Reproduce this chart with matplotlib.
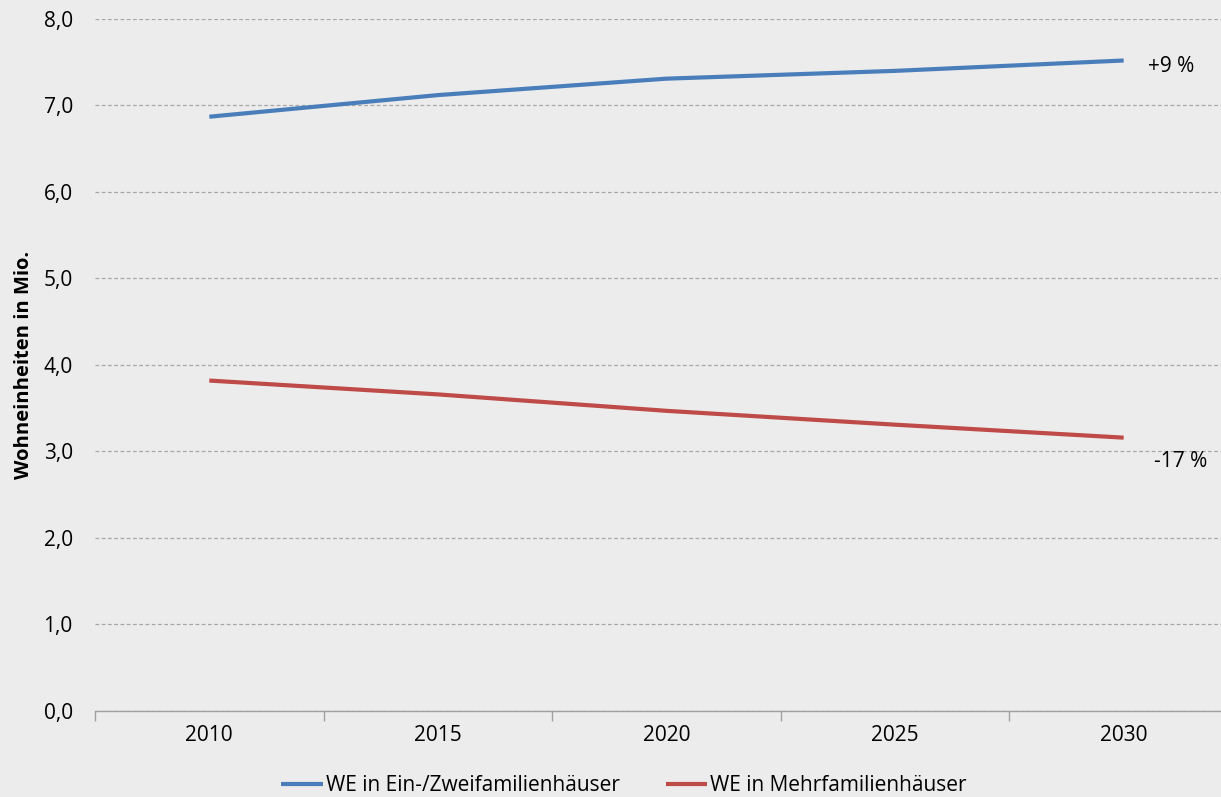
import matplotlib.pyplot as plt
from matplotlib.ticker import FuncFormatter

years = ["2010", "2015", "2020", "2025", "2030"]
ein_zwei = [6.87, 7.12, 7.31, 7.40, 7.52]
mehr = [3.82, 3.66, 3.47, 3.31, 3.16]
labels = ["WE in Ein-/Zweifamilienhäuser", "WE in Mehrfamilienhäuser"]
changes = ["+9 %", "-17 %"]

plt.rcParams['font.family'] = ['Open Sans', 'DejaVu Sans']
bg = '#ececec'
fs = 15

fig = plt.figure(figsize=(12.21, 7.97), dpi=100, facecolor=bg)
ax = fig.add_axes([0.0778, 0.1079, 1.0139 - 0.0778, 0.8683])
ax.set_facecolor(bg)

x = range(len(years))
l1, = ax.plot(x, ein_zwei, color='#4a7ebb', lw=3, solid_capstyle='butt')
l2, = ax.plot(x, mehr, color='#be4b48', lw=3, solid_capstyle='butt')

ax.annotate(changes[0], (x[-1], ein_zwei[-1]), xytext=(24, -6),
            textcoords='offset pixels', ha='left', va='center', fontsize=fs)
ax.annotate(changes[1], (x[-1], mehr[-1]), xytext=(30, -24),
            textcoords='offset pixels', ha='left', va='center', fontsize=fs)

ax.set_ylim(0, 8)
ax.set_xlim(-0.5, len(years) - 0.5)
ax.set_yticks(range(0, 9))
ax.yaxis.set_major_formatter(FuncFormatter(lambda v, p: f"{v:.1f}".replace('.', ',')))
ax.grid(axis='y', color='#a6a6a6', ls=(0, (3, 2)), lw=0.9)
ax.set_axisbelow(True)

ax.set_xticks(list(x))
ax.set_xticklabels(years)
ax.set_xticks([i - 0.5 for i in range(len(years) + 1)], minor=True)
ax.tick_params(axis='x', which='major', length=0, pad=10, labelsize=fs)
ax.tick_params(axis='x', which='minor', length=7, color='#a0a0a0', width=1)
ax.tick_params(axis='y', length=0, pad=16, labelsize=fs)

for s in ['top', 'right', 'left']:
    ax.spines[s].set_visible(False)
ax.spines['bottom'].set_color('#a0a0a0')
ax.spines['bottom'].set_linewidth(1)

fig.text(0.020, 0.542, "Wohneinheiten in Mio.", rotation=90, ha='center',
         va='center', fontsize=14.5, fontweight='bold')

fig.legend([l1, l2], labels, loc='center', bbox_to_anchor=(0.511, 0.014),
           ncol=2, frameon=False, fontsize=fs, handlelength=2.0,
           handletextpad=0.15, columnspacing=2.2)

fig.savefig("out.png", dpi=100, facecolor=bg)
